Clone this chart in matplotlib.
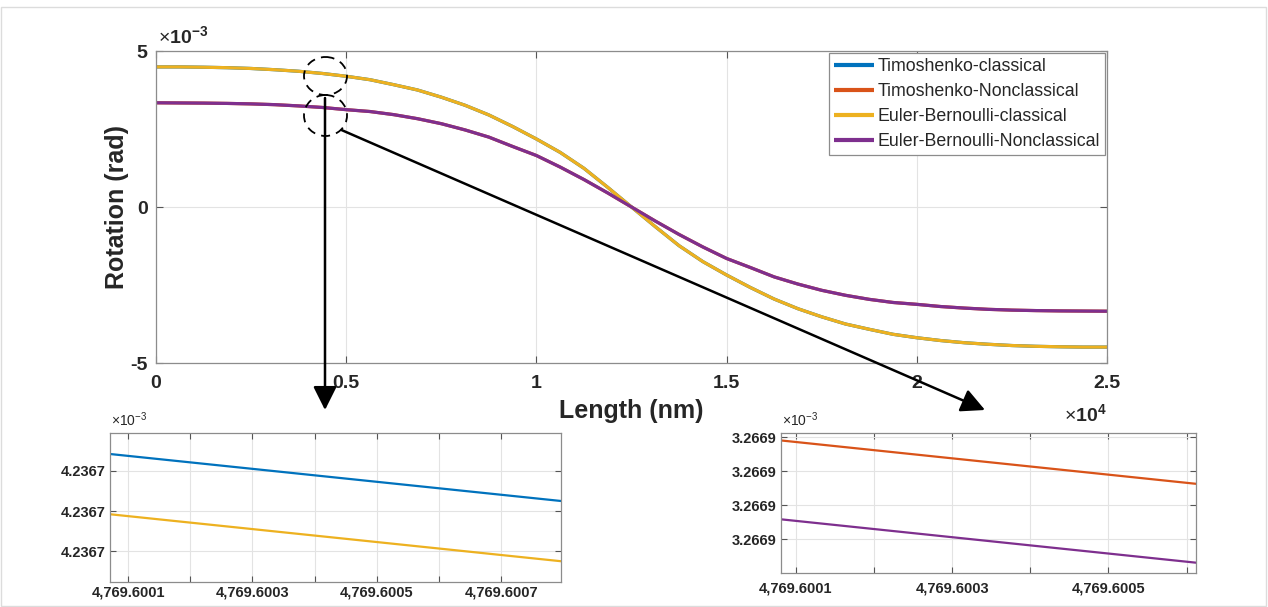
import matplotlib
matplotlib.use("Agg")
import matplotlib.pyplot as plt
import numpy as np
from matplotlib.patches import Ellipse, Rectangle
from matplotlib.ticker import FixedLocator, FuncFormatter

plt.rcParams['font.family'] = ['Liberation Sans', 'DejaVu Sans']
plt.rcParams['mathtext.fontset'] = 'custom'
plt.rcParams['mathtext.rm'] = 'Liberation Sans'
plt.rcParams['mathtext.bf'] = 'Liberation Sans:bold'

W, H = 1268, 607

# main curves, length in nm, rotation in rad
length = np.arange(0, 25001, 625)
eb_classical = np.array([
    4.49, 4.49, 4.48, 4.465, 4.44, 4.40, 4.35, 4.28, 4.19, 4.08, 3.92,
    3.75, 3.52, 3.26, 2.95, 2.58, 2.18, 1.75, 1.24, 0.63, 0.00,
    -0.63, -1.24, -1.75, -2.18, -2.58, -2.95, -3.26, -3.52, -3.75, -3.92,
    -4.08, -4.19, -4.28, -4.35, -4.40, -4.44, -4.465, -4.48, -4.49, -4.49]) * 1e-3
eb_nonclassical = np.array([
    3.34, 3.335, 3.33, 3.32, 3.305, 3.28, 3.24, 3.19, 3.12, 3.06, 2.96,
    2.83, 2.67, 2.47, 2.24, 1.94, 1.65, 1.28, 0.88, 0.45, 0.00,
    -0.45, -0.88, -1.28, -1.65, -1.94, -2.24, -2.47, -2.67, -2.83, -2.96,
    -3.06, -3.12, -3.19, -3.24, -3.28, -3.305, -3.32, -3.33, -3.335, -3.34]) * 1e-3
# timoshenko curves lie under the euler-bernoulli ones
timo_classical = eb_classical.copy()
timo_nonclassical = eb_nonclassical.copy()

labels = ['Timoshenko-classical', 'Timoshenko-Nonclassical',
          'Euler-Bernoulli-classical', 'Euler-Bernoulli-Nonclassical']
colors = ['#0072BD', '#D95319', '#EDB120', '#7E2F8E']

# zoomed windows
zoom1_x = [4769.600071, 4769.600796]
zoom1_timo = [4.236700242e-3, 4.236700125e-3]
zoom1_eb = [4.236700092e-3, 4.236699975e-3]
zoom1_yticks = [4.2367e-3, 4.2367001e-3, 4.2367002e-3]
zoom1_xticks = [4769.6001, 4769.6002, 4769.6003, 4769.6004, 4769.6005, 4769.6006, 4769.6007]

zoom2_x = [4769.600081, 4769.600612]
zoom2_timo = [3.26690029e-3, 3.266900163e-3]
zoom2_eb = [3.266900059e-3, 3.266899932e-3]
zoom2_yticks = [3.2669e-3, 3.2669001e-3, 3.2669002e-3, 3.2669003e-3]
zoom2_xticks = [4769.6001, 4769.6002, 4769.6003, 4769.6004, 4769.6005, 4769.6006]

txt = '#262626'
gridc = '#e3e3e3'
framec = '#8c8c8c'


def px_axes(l, t, r, b):
    return fig.add_axes([l / W, 1 - b / H, (r - l) / W, (b - t) / H])


def style(ax, size, pad_x, pad_y):
    for s in ax.spines.values():
        s.set_color(framec)
        s.set_linewidth(0.9)
    ax.tick_params(direction='in', top=True, right=True, length=4, width=0.8,
                   color='#555555', labelsize=size, labelcolor=txt)
    ax.tick_params(axis='x', pad=pad_x)
    ax.tick_params(axis='y', pad=pad_y)
    for lab in ax.get_xticklabels() + ax.get_yticklabels():
        lab.set_fontweight('bold')
    ax.grid(True, color=gridc, lw=0.8)
    ax.set_axisbelow(True)


fig = plt.figure(figsize=(W / 100, H / 100), dpi=100)

# ---- main axes
ax = px_axes(156, 51, 1107, 363)
series = [timo_classical, timo_nonclassical, eb_classical, eb_nonclassical]
for ys, lab, c in zip(series, labels, colors):
    ax.plot(length, ys, color=c, lw=2.3, label=lab, solid_capstyle='butt')
ax.set_xlim(0, 25000)
ax.set_ylim(-5e-3, 5e-3)
ax.xaxis.set_major_locator(FixedLocator(np.arange(0, 25001, 5000)))
ax.yaxis.set_major_locator(FixedLocator([-5e-3, 0, 5e-3]))
ax.xaxis.set_major_formatter(FuncFormatter(lambda v, p: '%g' % (v / 1e4)))
ax.yaxis.set_major_formatter(FuncFormatter(lambda v, p: '%g' % (v * 1e3)))
style(ax, 14, 9, 6)
ax.tick_params(length=5)
ax.set_xlabel('Length (nm)', fontsize=18, fontweight='bold', color=txt, labelpad=5)
ax.set_ylabel('Rotation (rad)', fontsize=18, fontweight='bold', color=txt, labelpad=1)

leg = ax.legend(loc='upper right', bbox_to_anchor=(1.0, 1.0), borderaxespad=0.1,
                fontsize=12.8, frameon=True, fancybox=False, framealpha=1,
                edgecolor=framec, handlelength=2.25, handletextpad=0.2,
                labelspacing=0.45, borderpad=0.3)
leg.get_frame().set_linewidth(0.9)
for line in leg.get_lines():
    line.set_linewidth(3)
for t in leg.get_texts():
    t.set_color(txt)

# ---- zoom 1
z1 = px_axes(110, 433, 561, 582)
z1.plot(zoom1_x, zoom1_timo, color=colors[0], lw=1.6)
z1.plot(zoom1_x, zoom1_eb, color=colors[2], lw=1.6)
z1.set_xlim(4769.600071, 4769.600796)
z1.set_ylim(4.2366999233e-3, 4.2367002943e-3)
z1.xaxis.set_major_locator(FixedLocator(zoom1_xticks))
z1.yaxis.set_major_locator(FixedLocator(zoom1_yticks))
z1.xaxis.set_major_formatter(FuncFormatter(lambda v, p: '{:,.4f}'.format(v) if p % 2 == 0 else ''))
z1.yaxis.set_major_formatter(FuncFormatter(lambda v, p: '%.4f' % (v * 1e3)))
style(z1, 10.5, 2.5, 3.5)

# ---- zoom 2
z2 = px_axes(781, 433, 1196, 573)
z2.plot(zoom2_x, zoom2_timo, color=colors[1], lw=1.6)
z2.plot(zoom2_x, zoom2_eb, color=colors[3], lw=1.6)
z2.set_xlim(4769.600081, 4769.600612)
z2.set_ylim(3.2668999018e-3, 3.2669003118e-3)
z2.xaxis.set_major_locator(FixedLocator(zoom2_xticks))
z2.yaxis.set_major_locator(FixedLocator(zoom2_yticks))
z2.xaxis.set_major_formatter(FuncFormatter(lambda v, p: '{:,.4f}'.format(v) if p % 2 == 0 else ''))
z2.yaxis.set_major_formatter(FuncFormatter(lambda v, p: '%.4f' % (v * 1e3)))
style(z2, 10.5, 6, 3.5)

# ---- overlay in pixel coordinates for annotations
ov = fig.add_axes([0, 0, 1, 1])
ov.set_xlim(0, W)
ov.set_ylim(H, 0)
ov.axis('off')
ov.patch.set_alpha(0)

ov.add_patch(Rectangle((1, 7), W - 3, H - 8, fill=False, ec='#dcdcdc', lw=1))

ov.text(158, 47, r'$\times\mathbf{10^{-3}}$', fontsize=14, color=txt, ha='left', va='bottom')
ov.text(1107, 425, r'$\times\mathbf{10^{4}}$', fontsize=14, color=txt, ha='right', va='bottom')
ov.text(111, 429, r'$\times\mathregular{10^{-3}}$', fontsize=10, color=txt, ha='left', va='bottom')
ov.text(782, 429, r'$\times\mathregular{10^{-3}}$', fontsize=10, color=txt, ha='left', va='bottom')

for cy, h in [(76, 38), (115.5, 41)]:
    ov.add_patch(Ellipse((325.5, cy), 43, h, fill=False, ec='k', lw=1.3,
                         ls=(0, (5, 3.5))))

arrow = dict(arrowstyle='-|>,head_length=0.4,head_width=0.2', color='k', lw=1.8,
             mutation_scale=36, shrinkA=0, shrinkB=0)
ov.annotate('', xy=(325, 410), xytext=(325, 98), arrowprops=arrow)
ov.annotate('', xy=(985, 410), xytext=(341.5, 130), arrowprops=arrow)

fig.savefig('out.png', dpi=100)
